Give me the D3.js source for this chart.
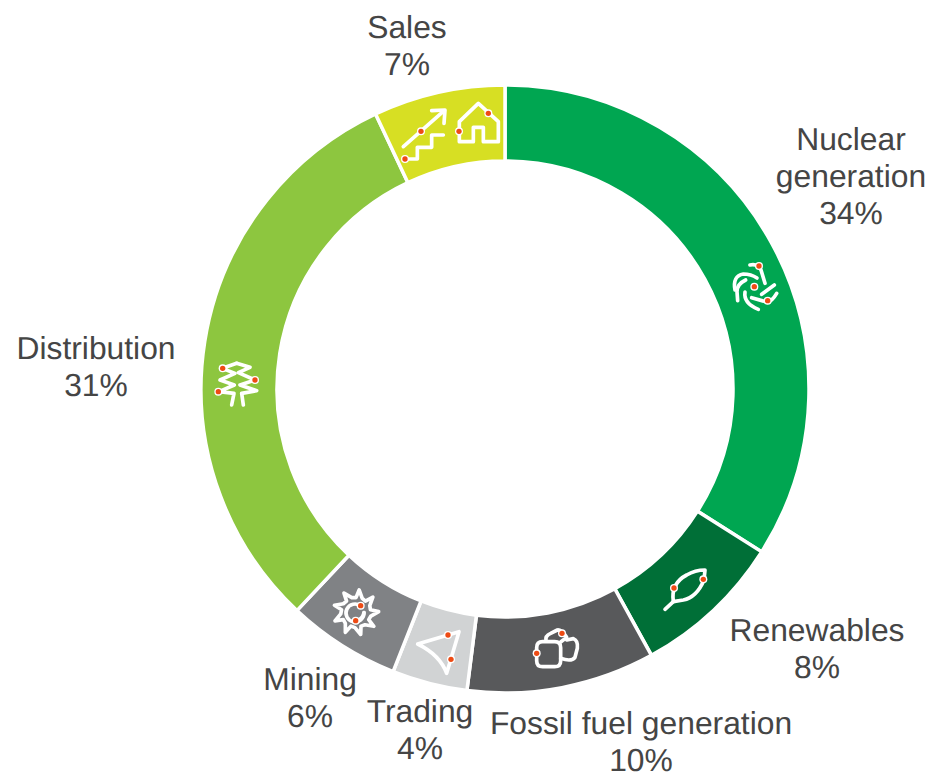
<!DOCTYPE html>
<html>
<head>
<meta charset="utf-8">
<script src="https://cdnjs.cloudflare.com/ajax/libs/d3/7.8.5/d3.min.js"></script>
<style>
  html, body { margin: 0; padding: 0; background: #fff; overflow: hidden; }
  text { font-family: "Liberation Sans", Arial, sans-serif; font-size: 31.8px; fill: #454545; text-anchor: middle; text-rendering: geometricPrecision; }
  .glyph { fill: none; stroke: #fff; stroke-width: 11; stroke-linejoin: round; stroke-linecap: round; }
</style>
</head>
<body>
<svg id="chart" width="935" height="772"></svg>
<script>
const categories = ["Nuclear generation", "Renewables", "Fossil fuel generation", "Trading", "Mining", "Distribution", "Sales"];
const shares = [34, 8, 10, 4, 6, 31, 7];
const colors = ["#00a651", "#006f37", "#58595b", "#d1d3d4", "#808285", "#8dc63f", "#d7df23"];

// Label placement: line breaks and [centre x, first baseline] for each category
const labelLines = [["Nuclear", "generation"], ["Renewables"], ["Fossil fuel generation"], ["Trading"], ["Mining"], ["Distribution"], ["Sales"]];
const labelAt = [[851, 150], [817, 641], [641, 734], [420, 722], [310, 690], [96, 359], [407, 38]];
const lineHeight = 36.8;

const cx = 505, cy = 389, outerR = 304, innerR = 228;

const svg = d3.select("#chart");
const g = svg.append("g").attr("transform", `translate(${cx},${cy})`);

const pie = d3.pie().sort(null)(shares);
const arc = d3.arc().innerRadius(innerR).outerRadius(outerR);

g.selectAll("path.slice")
  .data(pie)
  .enter()
  .append("path")
  .attr("class", "slice")
  .attr("d", arc)
  .attr("fill", (d, i) => colors[i])
  .attr("stroke", "#fff")
  .attr("stroke-width", 3.5);

// Labels
categories.forEach((name, i) => {
  const t = svg.append("text").attr("x", labelAt[i][0]).attr("y", labelAt[i][1]);
  labelLines[i].concat(`${shares[i]}%`).forEach((line, k) => {
    t.append("tspan")
      .attr("x", labelAt[i][0])
      .attr("dy", k ? lineHeight : 0)
      .text(line);
  });
});

// Gear outline for the mining icon: sawtooth teeth, each one leaning the same way
const gearTeeth = d3.range(9).flatMap(k => {
  const a = k * 2 * Math.PI / 9;
  return [[a, 44], [a + 0.14, 68], [a + 0.42, 46]];
});
const gearPath = d3.lineRadial().curve(d3.curveLinearClosed)(gearTeeth);

// Icons are drawn at 3x in their own box, then scaled down
const icons = [
  { at: [715, 250], dots: [[132, 48], [118, 110], [158, 152]], paths: [
    "M105,45 Q128,40 138,60 L150,100",
    "M60,120 Q52,78 85,72 Q108,72 126,84",
    "M92,90 Q66,102 66,125 L68,152",
    "M90,126 Q85,160 130,178",
    "M110,143 L158,157 Q172,152 185,130",
    "M140,133 L178,105"
  ] },
  { at: [650, 560], dots: [[72, 84], [160, 58]], paths: [
    "M45,148 L70,125",
    "M70,125 Q62,70 110,45 Q135,30 165,30 L162,60 Q140,112 100,120 Z"
  ] },
  { at: [520, 620], dots: [[50, 100], [126, 40]], paths: [
    "M68,65 H104 Q122,65 122,83 V122 Q122,140 104,140 H68 Q50,140 50,122 V83 Q50,65 68,65 Z",
    "M78,62 Q75,47 92,40 L112,30 Q124,28 140,52 L122,66",
    "M140,60 L160,56 Q175,62 172,85 L165,112 Q155,126 122,115"
  ] },
  { at: [405, 620], dots: [[129, 45], [138, 118]], paths: [
    "M38,72 L162,35 L125,160 Q105,105 38,72 Z"
  ] },
  { at: [320, 580], dots: [[122, 77], [107, 122]], paths: [
    "M132,98 A27,27 0 1 1 122,78",
    "M107,122 Q128,120 132,98"
  ], gear: [108, 97] },
  { at: [205, 350], dots: [[53, 55], [150, 90], [40, 125]], paths: [
    "M80,165 L87,130 L42,125 L88,105 L45,90 L90,70 L52,55 L95,40",
    "M95,40 L135,52 L100,68 L150,90 L105,105 L155,122 L110,130 L115,165"
  ] },
  { at: [380, 90], dots: [[123, 124], [75, 207], [237, 124], [325, 70]], paths: [
    "M70,170 L190,64",
    "M155,62 L195,60 L192,100",
    "M75,207 H112 V172 H155 V135 H190",
    "M238,125 V155 H280 V112 H310 V155 H355 V95 L295,40 L238,95 V125"
  ] }
];

icons.forEach(icon => {
  const ig = svg.append("g").attr("transform", `translate(${icon.at[0]},${icon.at[1]}) scale(${1 / 3})`);
  icon.paths.forEach(p => ig.append("path").attr("class", "glyph").attr("d", p));
  if (icon.gear) {
    ig.append("path").attr("class", "glyph")
      .attr("transform", `translate(${icon.gear[0]},${icon.gear[1]})`)
      .attr("d", gearPath);
  }
  // White halo under each red dot
  ig.selectAll("circle.halo")
    .data(icon.dots)
    .enter()
    .append("circle")
    .attr("class", "halo")
    .attr("cx", d => d[0])
    .attr("cy", d => d[1])
    .attr("r", 12)
    .attr("fill", "#fff");
  ig.selectAll("circle.dot")
    .data(icon.dots)
    .enter()
    .append("circle")
    .attr("class", "dot")
    .attr("cx", d => d[0])
    .attr("cy", d => d[1])
    .attr("r", 8)
    .attr("fill", "#ee4b14");
});
</script>
</body>
</html>
